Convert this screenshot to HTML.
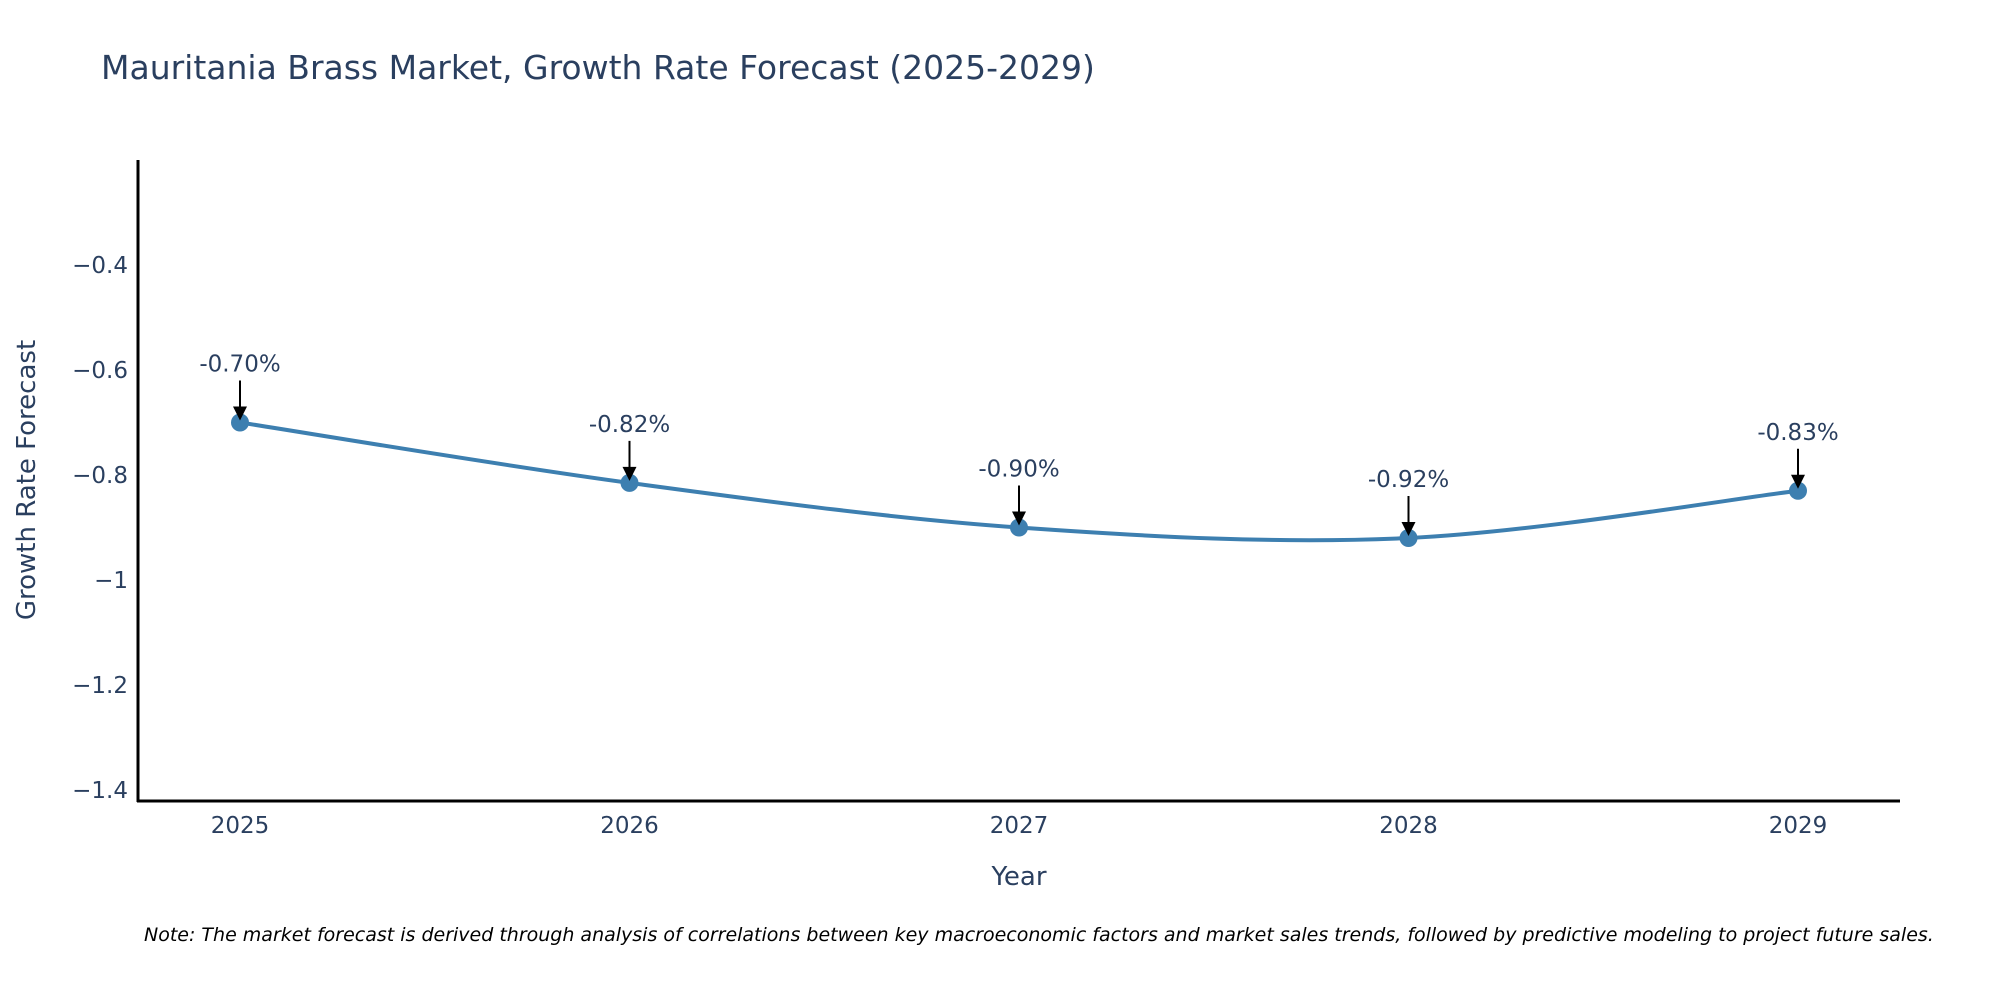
<!DOCTYPE html>
<html><head><meta charset="utf-8"><style>
body{margin:0;background:#fff;}
svg text{font-family:"DejaVu Sans","Liberation Sans",sans-serif;}
</style></head><body>
<svg id="chart" width="2000" height="1000" viewBox="0 0 2000 1000">
<text x="101" y="79" font-size="33" fill="#2a3f5f">Mauritania Brass Market, Growth Rate Forecast (2025-2029)</text>
<g id="yticks"></g><g id="xticks"></g>
<line x1="138" y1="160" x2="138" y2="802" stroke="#000" stroke-width="3"/>
<line x1="137" y1="801" x2="1900" y2="801" stroke="#000" stroke-width="3"/>
<path id="line" fill="none" stroke="#3d7fb0" stroke-width="4"/>
<g id="marks"></g>
<text x="1019" y="885" font-size="26" fill="#2a3f5f" text-anchor="middle">Year</text>
<text transform="translate(35,480) rotate(-90)" font-size="26" fill="#2a3f5f" text-anchor="middle">Growth Rate Forecast</text>
<text x="144" y="941" font-size="19" font-style="italic" fill="#000">Note: The market forecast is derived through analysis of correlations between key macroeconomic factors and market sales trends, followed by predictive modeling to project future sales.</text>
</svg>
<script>
const years=[2025,2026,2027,2028,2029];
const values=[-0.70,-0.815,-0.90,-0.92,-0.83];
const labels=["-0.70%","-0.82%","-0.90%","-0.92%","-0.83%"];
const yTicks=[-0.4,-0.6,-0.8,-1,-1.2,-1.4];
const yTickLabels=["\u22120.4","\u22120.6","\u22120.8","\u22121","\u22121.2","\u22121.4"];
const NS="http://www.w3.org/2000/svg";
function xs(v){return 240+(v-2025)*389.5;}
function ys(v){return 265+(-0.4-v)*525;}
function mk(tag,attrs,parent){const e=document.createElementNS(NS,tag);for(const k in attrs)e.setAttribute(k,attrs[k]);parent.appendChild(e);return e;}
const yt=document.getElementById('yticks');
yTicks.forEach((v,i)=>{const t=mk('text',{x:128,y:ys(v)+8,'font-size':23,fill:'#2a3f5f','text-anchor':'end'},yt);


t.textContent=yTickLabels[i];});
const xt=document.getElementById('xticks');
years.forEach(y=>{const t=mk('text',{x:xs(y),y:833,'font-size':23,fill:'#2a3f5f','text-anchor':'middle'},xt);


t.textContent=String(y);});
const P=years.map((y,i)=>[xs(y),ys(values[i])]);
let d='M'+P[0][0]+','+P[0][1];
for(let i=0;i<P.length-1;i++){const p0=P[Math.max(0,i-1)],p1=P[i],p2=P[i+1],p3=P[Math.min(P.length-1,i+2)];
const c1=[p1[0]+(p2[0]-p0[0])/6,p1[1]+(p2[1]-p0[1])/6],c2=[p2[0]-(p3[0]-p1[0])/6,p2[1]-(p3[1]-p1[1])/6];
d+=' C'+c1+' '+c2+' '+p2;}
document.getElementById('line').setAttribute('d',d);
const g=document.getElementById('marks');
P.forEach((p,i)=>{
const c=mk('circle',{cx:p[0],cy:p[1],r:9,fill:'#3d7fb0'},g);


const l=mk('line',{x1:p[0],y1:p[1]-42,x2:p[0],y2:p[1]-14,stroke:'#000','stroke-width':2},g);


const a=mk('polygon',{points:(p[0]-7)+','+(p[1]-16)+' '+(p[0]+7)+','+(p[1]-16)+' '+p[0]+','+(p[1]-2)},g);
a.setAttribute('fill','#000');


const t=mk('text',{x:p[0],y:p[1]-51,'font-size':23,fill:'#2a3f5f','text-anchor':'middle'},g);


t.textContent=labels[i];});
</script>
</body></html>
